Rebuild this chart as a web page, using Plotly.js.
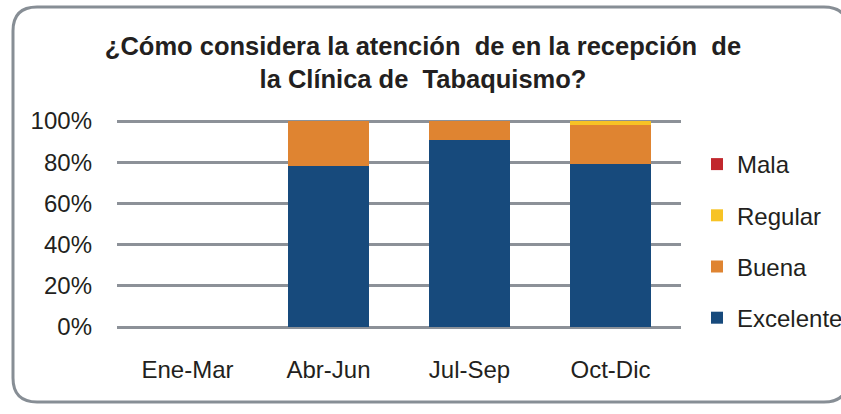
<!DOCTYPE html>
<html>
<head>
<meta charset="utf-8">
<script src="https://cdn.plot.ly/plotly-3.0.1.min.js"></script>
<style>html,body{margin:0;padding:0;background:#fff;}#chart{width:841px;height:414px;}</style>
</head>
<body>
<div id="chart"></div>
<script>
const categories = ['Ene-Mar', 'Abr-Jun', 'Jul-Sep', 'Oct-Dic'];
const excelente = [0, 78, 91, 79];
const buena = [0, 22, 9, 19];
const regular = [0, 0, 0, 2];
const mala = [0, 0, 0, 0];
const yTicks = [0, 20, 40, 60, 80, 100];
const yTickText = ['0%', '20%', '40%', '60%', '80%', '100%'];

const W = 841, H = 414;
const M = {l: 117, r: 160, t: 119, b: 87};
const yMax = 101;
const pw = W - M.l - M.r, ph = H - M.t - M.b;
const px = x => (x - M.l) / pw;
const py = y => (H - M.b - y) / ph;

function roundRect(l, t, r, b, rad) {
  const P = (x, y) => px(x).toFixed(4) + ',' + py(y).toFixed(4);
  return 'M' + P(l, t + rad) + ' Q' + P(l, t) + ' ' + P(l + rad, t) +
    ' L' + P(r - rad, t) + ' Q' + P(r, t) + ' ' + P(r, t + rad) +
    ' L' + P(r, b - rad) + ' Q' + P(r, b) + ' ' + P(r - rad, b) +
    ' L' + P(l + rad, b) + ' Q' + P(l, b) + ' ' + P(l, b - rad) + ' Z';
}

const font = 'Liberation Sans, Arial, sans-serif';
const series = [
  {name: 'Excelente', y: excelente, color: '#174a7c', rank: 4},
  {name: 'Buena', y: buena, color: '#df8431', rank: 3},
  {name: 'Regular', y: regular, color: '#f7c325', rank: 2},
  {name: 'Mala', y: mala, color: '#c1272d', rank: 1}
];
const traces = series.map(s => ({
  type: 'bar', x: categories, y: s.y, name: s.name, legendgroup: s.name,
  legendrank: s.rank,
  marker: {color: s.color, line: {width: 0}},
  hoverinfo: 'x+y+name'
}));

const layout = {
  width: W, height: H,
  margin: M,
  paper_bgcolor: '#ffffff', plot_bgcolor: '#ffffff',
  barmode: 'stack', bargap: 0.42,
  font: {family: font, size: 24, color: '#231f20'},
  title: {
    text: '<b>¿Cómo considera la atención  de en la recepción  de<br>la Clínica de  Tabaquismo?</b>',
    x: 423 / W, xref: 'container', xanchor: 'center',
    y: 1 - 55 / H, yanchor: 'middle',
    font: {family: font, size: 25.5, color: '#231f20'}
  },
  xaxis: {
    showgrid: false, showline: false, zeroline: false,
    ticks: '', ticklabelstandoff: 26,
    tickfont: {family: font, size: 24, color: '#231f20'}
  },
  yaxis: {
    range: [0, yMax], tickvals: yTicks, ticktext: yTickText,
    showgrid: true, gridcolor: '#8c9198', gridwidth: 3,
    zeroline: true, zerolinecolor: '#8c9198', zerolinewidth: 3,
    showline: false, ticks: '', ticklabelstandoff: 24,
    tickfont: {family: font, size: 24, color: '#231f20'}
  },
  showlegend: true,
  legend: {
    traceorder: 'grouped', tracegroupgap: 17,
    xref: 'container', yref: 'container',
    x: 697 / W, xanchor: 'left', y: 1 - 142 / H, yanchor: 'top',
    font: {family: font, size: 24, color: '#231f20'},
    itemwidth: 30,
    bgcolor: 'rgba(0,0,0,0)'
  },
  shapes: [{
    type: 'path', xref: 'paper', yref: 'paper', layer: 'above',
    path: roundRect(13, 7, 848, 402, 24),
    line: {color: '#878e95', width: 3}, fillcolor: 'rgba(0,0,0,0)'
  }]
};

Plotly.newPlot('chart', traces, layout, {displayModeBar: false, staticPlot: true});
</script>
</body>
</html>
